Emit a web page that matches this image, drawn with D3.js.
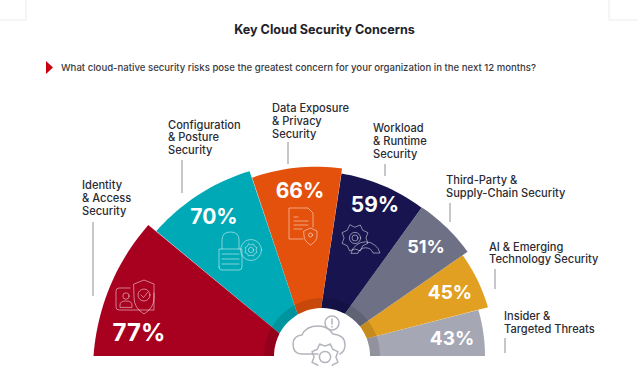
<!DOCTYPE html>
<html>
<head>
<meta charset="utf-8">
<script src="https://cdn.jsdelivr.net/npm/d3@7"></script>
<style>
  html, body { margin: 0; padding: 0; background: #fff; overflow: hidden; }
  svg { display: block; }
  text { font-family: Inter, "Noto Sans", sans-serif; }
</style>
</head>
<body>
<div id="container"></div>
<script>
const title = "Key Cloud Security Concerns";
const question = "What cloud-native security risks pose the greatest concern for your organization in the next 12 months?";
const categories = [
  ["Identity", "& Access", "Security"],
  ["Configuration", "& Posture", "Security"],
  ["Data Exposure", "& Privacy", "Security"],
  ["Workload", "& Runtime", "Security"],
  ["Third-Party &", "Supply-Chain Security"],
  ["AI & Emerging", "Technology Security"],
  ["Insider &", "Targeted Threats"]
];
const values = [77, 70, 66, 59, 51, 45, 43];

// layout
const colors = ["#a8001f", "#00a9b6", "#e4510d", "#17144f", "#6e7185", "#e1a021", "#a5a7b4"];
const outerAngles = [-90, -53, -21.4, 6.1, 33.9, 54.4, 73.6, 90];
const hubAngles = [-90, -62, -30.4, -1, 28.5, 52, 68.6, 90];
const radiusSteps = [163, 173, 179, 181, 190, 203, 223];
const taper = [11, 9, 3, 5, 0, 0, 0];
const valuePos = [[139, 332, 24], [214, 216, 21], [300, 190, 21], [375, 204, 21], [426, 246, 18], [450, 292, 19], [452, 338, 19]];
const labelPos = [[82, 189], [168, 128.5], [272, 112], [373, 132], [446, 184], [489, 250.5], [504, 320]];
const leaders = [[93, 222, 296], [182, 160, 193], [288, 142, 164], [385, 164, 176], [450, 203, 222], [495, 269, 289], [505, 338, 353]];

const width = 638, height = 366;
const cx = 322, cy = 356, hubR = 48;

const svg = d3.select("#container").append("svg").attr("width", width).attr("height", height);
const deg = d3.scaleLinear([0, 180], [0, Math.PI]);
const radius = d3.scaleLinear([...values].sort(d3.ascending), radiusSteps);

// page corner marks
const marks = svg.append("g").attr("stroke", "#ececec").attr("fill", "none");
marks.append("path").attr("d", "M26,0V20H0");
marks.append("path").attr("d", "M609,0V20H638");

svg.append("text").attr("x", 324.5).attr("y", 34).attr("text-anchor", "middle")
  .attr("font-size", 12.6).attr("font-weight", 700).attr("fill", "#22222a").text(title);
svg.append("path").attr("d", d3.line()([[46, 61], [53, 67.5], [46, 74]])).attr("fill", "#c8000f");
svg.append("text").attr("x", 61).attr("y", 71).attr("font-size", 9.6).attr("font-weight", 500)
  .attr("fill", "#3a3a42").text(question);

// wedges: straight sides that do not meet at the centre, and a slightly tapered rim
const wedges = values.map((v, i) => ({ v, i }));
const chart = svg.append("g").attr("transform", `translate(${cx},${cy})`);
const radial = d3.lineRadial().angle(d => deg(d[0])).radius(d => d[1]);
const wedgePoints = ({ v, i }) => {
  const a0 = outerAngles[i], a1 = outerAngles[i + 1];
  const r = radius(v);
  const rim = d3.scaleLinear([a0, a1], [r + taper[i] / 2, r - taper[i] / 2]);
  const rimPts = d3.range(a0, a1, 1.5).concat(a1).map(a => [a, rim(a)]);
  return [[hubAngles[i], hubR], ...rimPts, [hubAngles[i + 1], hubR]];
};
chart.selectAll("path.wedge").data(wedges.slice().reverse()).join("path")
  .attr("class", "wedge")
  .attr("d", d => radial(wedgePoints(d)) + "Z")
  .attr("fill", d => colors[d.i]);

// dark ring and white hub
chart.append("path")
  .attr("d", d3.arc()({ innerRadius: hubR, outerRadius: 58, startAngle: -Math.PI / 2, endAngle: Math.PI / 2 }))
  .attr("fill", "#000").attr("opacity", 0.12);
chart.append("circle").attr("r", hubR).attr("cy", 0).attr("fill", "#fff");

// value labels
svg.selectAll("text.value").data(wedges).join("text")
  .attr("class", "value")
  .attr("x", d => valuePos[d.i][0]).attr("y", d => valuePos[d.i][1])
  .attr("font-size", d => valuePos[d.i][2])
  .attr("text-anchor", "middle").attr("dominant-baseline", "central")
  .attr("font-weight", 700).attr("fill", "#fff")
  .text(d => d.v + "%");

// category labels with leader lines
const label = svg.selectAll("g.label").data(categories).join("g").attr("class", "label");
label.append("text")
  .attr("font-size", 11.1).attr("font-weight", 500).attr("fill", "#2b2b33")
  .attr("transform", (d, i) => `translate(${labelPos[i][0]},${labelPos[i][1]})`)
  .selectAll("tspan").data(d => d).join("tspan")
  .attr("x", 0).attr("y", (d, i) => i * 12.9).text(d => d);
label.append("line")
  .attr("x1", (d, i) => leaders[i][0]).attr("x2", (d, i) => leaders[i][0])
  .attr("y1", (d, i) => leaders[i][1]).attr("y2", (d, i) => leaders[i][2])
  .attr("stroke", "#8d8f98").attr("stroke-width", 1);

// line icons
const icon = (x, y, color, sw) => svg.append("g")
  .attr("transform", `translate(${x},${y})`)
  .attr("fill", "none").attr("stroke", color).attr("stroke-width", sw || 0.9)
  .attr("stroke-linejoin", "round").attr("stroke-linecap", "round");
const gear = (g, x, y, r) => {
  const teeth = d3.range(16).map(k => {
    const rr = k % 2 ? r : r * 0.78;
    return [k * Math.PI / 8, rr];
  });
  g.append("path").attr("transform", `translate(${x},${y})`)
    .attr("d", d3.lineRadial().curve(d3.curveLinearClosed)(teeth));
  g.append("circle").attr("cx", x).attr("cy", y).attr("r", r * 0.4);
};
const iconWhite = "rgba(255,255,255,0.55)";

// identity card + shield
let g = icon(116, 280, iconWhite);
g.append("path").attr("d", "M14,8H3Q0,8,0,11V27Q0,30,3,30H38V13");
g.append("path").attr("d", "M18,4L28,0L38,4V18Q38,28,28,34Q18,28,18,18Z");
g.append("circle").attr("cx", 28).attr("cy", 15).attr("r", 6);
g.append("path").attr("d", "M25,15L27.5,17.5L31.5,12.5");
g.append("circle").attr("cx", 10).attr("cy", 16).attr("r", 3.2);
g.append("path").attr("d", "M4,27V25Q4,21,10,21Q16,21,16,25V27Z");

// padlock + gear
g = icon(216, 231, iconWhite);
g.append("path").attr("d", "M3,36V18H26V36Q26,39,23,39H6Q3,39,3,36Z");
g.append("path").attr("d", "M6,18V9Q6,1,14.5,1Q23,1,23,9V18");
g.append("path").attr("d", "M6,23H23M6,28H23M6,33H23");
g.append("circle").attr("cx", 35).attr("cy", 19).attr("r", 10.5);
gear(g, 35, 19, 6.5);

// document + shield
g = icon(288, 207, iconWhite);
g.append("path").attr("d", "M15,32H1V1H20L25,6V20");
g.append("path").attr("d", "M6,10H10M6,14H20M6,18H20M6,22H14");
g.append("path").attr("d", "M16,24L22.5,21L29,24V29Q29,34,22.5,38Q16,34,16,29Z");
g.append("circle").attr("cx", 22.5).attr("cy", 28).attr("r", 2);

// gears
g = icon(341, 224, iconWhite);
gear(g, 14, 14, 14);
g.append("circle").attr("cx", 14).attr("cy", 14).attr("r", 3);
g.append("path").attr("d", "M10,29A15,15,0,0,1,39,29H32A8,8,0,0,0,17,29Z");

// hub cloud, alert, gear
g = icon(0, 0, "#b3b5bd", 1.5);
g.append("path").attr("d", "M318,354H302Q293,354,293,344Q293,336,302,335Q306,326,318,326Q328,326,333,334Q345,335,345,345Q345,351,340,354");
g.append("circle").attr("cx", 332).attr("cy", 323).attr("r", 7).attr("fill", "#fff");
g.append("path").attr("d", "M332,319V324M332,326.5V327");
gear(g, 325, 357, 14);
</script>
</body>
</html>
